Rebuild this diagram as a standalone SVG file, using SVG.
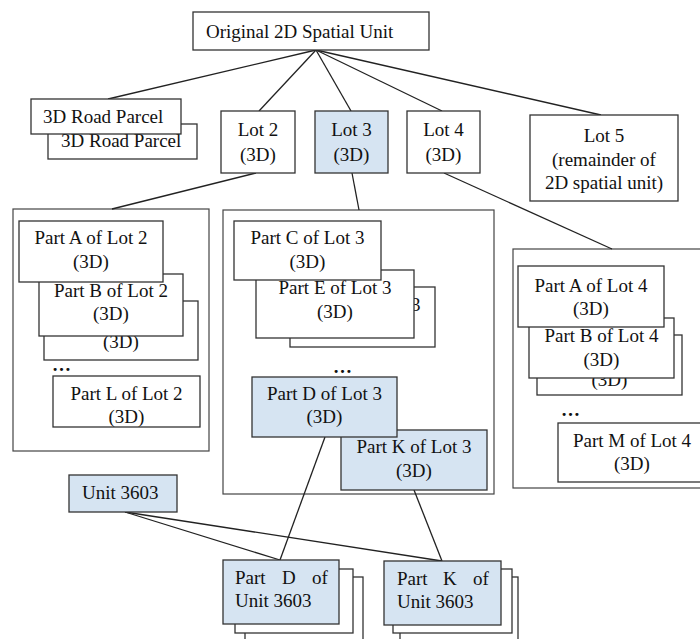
<svg xmlns="http://www.w3.org/2000/svg" width="700" height="639" viewBox="0 0 700 639">
<style>
.b{fill:#fff;stroke:#333;stroke-width:1.3}
.h{fill:#d6e4f2;stroke:#333;stroke-width:1.3}
.g{fill:#fff;stroke:#444;stroke-width:1.2}
.c line{stroke:#222;stroke-width:1.3}
text{font-family:"Liberation Serif","Times New Roman",serif;font-size:19px;fill:#111}
.m{text-anchor:middle}
.d{font-weight:bold}
</style>
<rect width="700" height="639" fill="#fff"/>
<g id="group-lot2"><rect class="g" x="13" y="209" width="196" height="242"/></g>
<g id="group-lot3"><rect class="g" x="223" y="210" width="271" height="284"/></g>
<g id="group-lot4"><rect class="g" x="513" y="249" width="200" height="239"/></g>
<g id="connectors" class="c">
<line x1="316" y1="50" x2="108" y2="99"/>
<line x1="316" y1="50" x2="259" y2="111"/>
<line x1="316" y1="50" x2="351" y2="111"/>
<line x1="316" y1="50" x2="442" y2="111"/>
<line x1="316" y1="50" x2="601" y2="115"/>
<line x1="256" y1="173" x2="112" y2="209"/>
<line x1="352" y1="173" x2="359" y2="210"/>
<line x1="444" y1="173" x2="612" y2="249"/>
<line x1="325" y1="437" x2="280" y2="560"/>
<line x1="414" y1="490" x2="442" y2="561"/>
<line x1="125" y1="512" x2="280" y2="560"/>
<line x1="125" y1="512" x2="442" y2="561"/>
</g>
<g id="original"><rect class="b" x="193" y="12" width="236" height="38"/><text x="206" y="38">Original 2D Spatial Unit</text></g>
<g id="road-parcel-back"><rect class="b" x="48" y="124" width="149" height="35"/><text x="61" y="147">3D Road Parcel</text></g>
<g id="road-parcel"><rect class="b" x="31" y="99" width="150" height="35"/><text x="43" y="123">3D Road Parcel</text></g>
<g id="lot2"><rect class="b" x="221" y="111" width="74" height="62"/><text class="m" x="258" y="136">Lot 2</text><text class="m" x="258" y="161">(3D)</text></g>
<g id="lot3"><rect class="h" x="315" y="111" width="73" height="62"/><text class="m" x="351.5" y="136">Lot 3</text><text class="m" x="351.5" y="161">(3D)</text></g>
<g id="lot4"><rect class="b" x="407" y="111" width="73" height="62"/><text class="m" x="443.5" y="136">Lot 4</text><text class="m" x="443.5" y="161">(3D)</text></g>
<g id="lot5"><rect class="b" x="530" y="115" width="148" height="86"/><text class="m" x="604" y="142">Lot 5</text><text class="m" x="604" y="166">(remainder of</text><text class="m" x="604" y="189">2D spatial unit)</text></g>
<g id="lot2-part-back"><rect class="b" x="44" y="301" width="154" height="59"/><text class="m" x="121" y="348">(3D)</text></g>
<g id="lot2-part-b"><rect class="b" x="39" y="274" width="144" height="62"/><text class="m" x="111" y="297">Part B of Lot 2</text><text class="m" x="111" y="320">(3D)</text></g>
<g id="lot2-part-a"><rect class="b" x="19" y="221" width="144" height="61"/><text class="m" x="91" y="244">Part A of Lot 2</text><text class="m" x="91" y="268">(3D)</text></g>
<g id="lot2-dots"><text class="d" x="52" y="371">…</text></g>
<g id="lot2-part-l"><rect class="b" x="53" y="376" width="147" height="51"/><text class="m" x="126.5" y="400">Part L of Lot 2</text><text class="m" x="126.5" y="423">(3D)</text></g>
<g id="lot3-part-back"><rect class="b" x="290" y="287" width="145" height="60"/><text x="411" y="311">3</text></g>
<g id="lot3-part-e"><rect class="b" x="256" y="270" width="158" height="68"/><text class="m" x="335" y="294">Part E of Lot 3</text><text class="m" x="335" y="318">(3D)</text></g>
<g id="lot3-part-c"><rect class="b" x="234" y="221" width="147" height="59"/><text class="m" x="307.5" y="244">Part C of Lot 3</text><text class="m" x="307.5" y="268">(3D)</text></g>
<g id="lot3-dots"><text class="d" x="333" y="373">…</text></g>
<g id="lot3-part-k"><rect class="h" x="341" y="430" width="146" height="60"/><text class="m" x="414" y="453">Part K of Lot 3</text><text class="m" x="414" y="477">(3D)</text></g>
<g id="lot3-part-d"><rect class="h" x="252" y="377" width="145" height="60"/><text class="m" x="324.5" y="400">Part D of Lot 3</text><text class="m" x="324.5" y="423">(3D)</text></g>
<g id="lot4-part-back"><rect class="b" x="537" y="335" width="145" height="60"/><text class="m" x="609.5" y="386">(3D)</text></g>
<g id="lot4-part-b"><rect class="b" x="529" y="318" width="145" height="60"/><text class="m" x="601.5" y="342">Part B of Lot 4</text><text class="m" x="601.5" y="366">(3D)</text></g>
<g id="lot4-part-a"><rect class="b" x="518" y="266" width="146" height="61"/><text class="m" x="591" y="292">Part A of Lot 4</text><text class="m" x="591" y="315">(3D)</text></g>
<g id="lot4-dots"><text class="d" x="561" y="416">…</text></g>
<g id="lot4-part-m"><rect class="b" x="558" y="423" width="148" height="59"/><text class="m" x="632" y="447">Part M of Lot 4</text><text class="m" x="632" y="470">(3D)</text></g>
<g id="unit3603"><rect class="h" x="69" y="475" width="108" height="37"/><text x="82" y="499">Unit 3603</text></g>
<g id="unit-part-d">
<rect class="b" x="245" y="577" width="118" height="75"/>
<rect class="b" x="235" y="569" width="118" height="64"/>
<rect class="h" x="223" y="560" width="116" height="64"/>
<text y="584"><tspan x="235">Part</tspan><tspan x="282">D</tspan><tspan x="312">of</tspan></text>
<text x="235" y="607">Unit 3603</text>
</g>
<g id="unit-part-k">
<rect class="b" x="400" y="577" width="118" height="75"/>
<rect class="b" x="393" y="569" width="119" height="64"/>
<rect class="h" x="384" y="561" width="117" height="64"/>
<text y="585"><tspan x="397">Part</tspan><tspan x="443">K</tspan><tspan x="473">of</tspan></text>
<text x="397" y="608">Unit 3603</text>
</g>
</svg>
